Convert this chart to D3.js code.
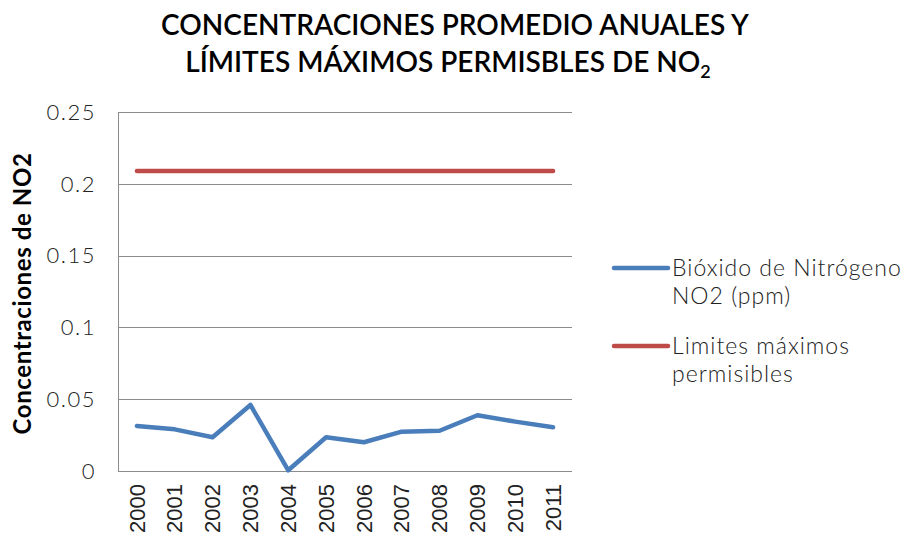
<!DOCTYPE html>
<meta charset="utf-8">
<script src="https://d3js.org/d3.v7.min.js"></script>
<style>
  body { margin: 0; background: #fff; }
</style>
<body>
<div id="draw"></div>
<script>
  var years = ["2000","2001","2002","2003","2004","2005","2006","2007","2008","2009","2010","2011"];
  var no2 = [0.0314, 0.029, 0.0235, 0.046, 0.0005, 0.0235, 0.020, 0.0274, 0.028, 0.0388, 0.0344, 0.0305];
  var limite = [0.209, 0.209, 0.209, 0.209, 0.209, 0.209, 0.209, 0.209, 0.209, 0.209, 0.209, 0.209];
  var yTicks = [0, 0.05, 0.1, 0.15, 0.2, 0.25];
  var seriesNames = [["Bióxido de Nitrógeno", "NO2 (ppm)"], ["Limites máximos", "permisibles"]];
  var colors = ["#4a7ebb", "#be4b48"];

  var width = 909, height = 542;
  var margins = {top: 112, left: 118, right: 337, bottom: 71};
  var chartWidth = width - margins.left - margins.right;
  var chartHeight = height - margins.top - margins.bottom;

  var svg = d3.select("#draw").append("svg")
    .attr("width", width).attr("height", height);

  // title
  var title = svg.append("text")
    .attr("text-anchor", "middle")
    .style("font-family", "Lato").style("font-weight", "600")
    .style("font-size", "28px").attr("fill", "#000");
  title.append("tspan").attr("x", 455).attr("y", 35).text("CONCENTRACIONES PROMEDIO ANUALES Y");
  title.append("tspan").attr("x", 448).attr("y", 72).text("LÍMITES MÁXIMOS PERMISBLES DE NO");
  title.append("tspan").attr("dy", 6).style("font-size", "18px").text("2");

  var chart = svg.append("g")
    .attr("transform", "translate(" + margins.left + "," + margins.top + ")");

  var x = d3.scaleBand().domain(years).range([0, chartWidth]);
  var y = d3.scaleLinear().domain([0, 0.25]).range([chartHeight, 0]);

  // gridlines
  chart.selectAll(".grid").data(yTicks).enter().append("line")
    .attr("x1", 0).attr("x2", chartWidth)
    .attr("y1", function(d){ return Math.round(y(d)) + 0.5; })
    .attr("y2", function(d){ return Math.round(y(d)) + 0.5; })
    .attr("stroke", "#8c8c8c").attr("stroke-width", 1);
  chart.append("line")
    .attr("x1", 0.5).attr("x2", 0.5).attr("y1", 0).attr("y2", chartHeight)
    .attr("stroke", "#8c8c8c");

  // y axis labels
  chart.selectAll(".ylab").data(yTicks).enter().append("text")
    .attr("x", -22).attr("y", function(d){ return y(d); })
    .attr("dy", "0.35em").attr("text-anchor", "end")
    .style("font-family", "Lato").style("font-weight", "300").style("font-size", "22px")
    .style("letter-spacing", "1.5px")
    .attr("fill", "#222")
    .text(function(d){ return d3.format("")(+d.toFixed(2)); });

  // x axis labels
  chart.selectAll(".xlab").data(years).enter().append("text")
    .attr("transform", function(d){ return "translate(" + (x(d) + x.bandwidth()/2) + "," + (chartHeight + 13) + ") rotate(-90)"; })
    .attr("dy", "0.35em").attr("text-anchor", "end")
    .style("font-family", "Liberation Sans").style("font-size", "22px")
    .attr("fill", "#222").text(function(d){ return d; });

  // y axis title
  svg.append("text")
    .attr("transform", "translate(31," + (margins.top + chartHeight/2 + 2) + ") rotate(-90)")
    .attr("text-anchor", "middle")
    .style("font-family", "Lato").style("font-weight", "bold").style("font-size", "24px")
    .style("letter-spacing", "0.6px")
    .text("Concentraciones de NO2");

  // lines
  var line = d3.line()
    .x(function(d, i){ return x(years[i]) + x.bandwidth()/2; })
    .y(function(d){ return y(d); });

  [no2, limite].forEach(function(s, i){
    chart.append("path").datum(s)
      .attr("d", line).attr("fill", "none")
      .attr("stroke", colors[i]).attr("stroke-width", 4.5)
      .attr("stroke-linejoin", "round").attr("stroke-linecap", "round");
  });

  // legend
  var legendY = [268, 346];
  seriesNames.forEach(function(name, i){
    var g = svg.append("g");
    g.append("line").attr("x1", 614).attr("x2", 668)
      .attr("y1", legendY[i]).attr("y2", legendY[i])
      .attr("stroke", colors[i]).attr("stroke-width", 4.5).attr("stroke-linecap", "round");
    var t = g.append("text")
      .style("font-family", "Lato").style("font-weight", "300").style("font-size", "23px")
      .style("letter-spacing", "1px")
      .attr("fill", "#222");
    t.append("tspan").attr("x", 672).attr("y", legendY[i] + 8).text(name[0]);
    t.append("tspan").attr("x", 672).attr("y", legendY[i] + 36).text(name[1]);
  });
</script>
</body>
